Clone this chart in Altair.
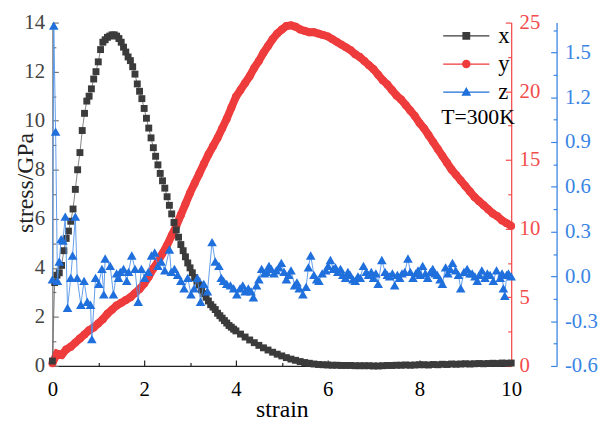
import altair as alt
import numpy as np
import pandas as pd

FONT = "Liberation Serif"

# ---------------- data ----------------
# series "x" (black squares, left axis, GPa)
black_strain = np.round(np.concatenate([np.arange(0, 4.001, 0.05), np.arange(4.1, 10.001, 0.1)]), 2)
black_stress = [
    0.2, 3.4, 3.7, 3.8, 4.1, 4.7, 5.2, 5.5, 5.9, 6.4,
    7.2, 8.0, 8.7, 9.6, 10.3, 10.8, 11.0, 11.3, 11.7, 12.0,
    12.4, 12.9, 13.2, 13.3, 13.4, 13.45, 13.5, 13.5, 13.45, 13.35,
    13.2, 13.0, 12.8, 12.6, 12.45, 12.2, 11.9, 11.5, 11.2, 10.9,
    10.5, 10.1, 9.7, 9.3, 8.9, 8.55, 8.2, 7.85, 7.55, 7.25,
    6.9, 6.55, 6.2, 5.85, 5.55, 5.25, 4.95, 4.7, 4.45, 4.2,
    4.0, 3.8, 3.6, 3.45, 3.3, 3.1, 2.95, 2.8, 2.65, 2.5,
    2.4, 2.3, 2.15, 2.05, 1.95, 1.85, 1.75, 1.65, 1.58, 1.5,
    1.43,
    1.3, 1.18, 1.06, 0.95, 0.84, 0.74, 0.65, 0.56, 0.48, 0.41,
    0.34, 0.28, 0.23, 0.18, 0.14, 0.11, 0.08, 0.06, 0.05, 0.04,
    0.03, 0.03, 0.02, 0.02, 0.02, 0.01, 0.01, 0.01, 0.01, 0.0,
    0.0, 0.01, 0.02, 0.02, 0.03, 0.03, 0.04, 0.03, 0.04, 0.05,
    0.05, 0.04, 0.06, 0.05, 0.07, 0.06, 0.08, 0.07, 0.08, 0.09,
    0.08, 0.09, 0.1, 0.09, 0.1, 0.11, 0.1, 0.12, 0.11, 0.12,
]

# series "y" (red circles, right red axis)
red_strain = np.round(np.arange(0, 10.001, 0.1), 1)
red_stress = [
    0.2, 0.9, 0.8, 1.2, 1.4, 1.7, 2.0, 2.3, 2.6, 2.8,
    3.1, 3.4, 3.8, 4.1, 4.4, 4.6, 4.8, 5.0, 5.3, 5.6,
    6.0, 6.5, 7.1, 7.6, 8.2, 8.8, 9.5, 10.2, 11.0, 11.8,
    12.6, 13.3, 14.0, 14.7, 15.4, 16.0, 16.6, 17.3, 18.0, 18.8,
    19.6, 20.1, 20.6, 21.1, 21.7, 22.2, 22.8, 23.3, 23.8, 24.2,
    24.5, 24.75, 24.8, 24.7, 24.5, 24.4, 24.3, 24.3, 24.2, 24.1,
    24.0, 23.8, 23.6, 23.4, 23.2, 23.0, 22.7, 22.5, 22.2, 21.9,
    21.6, 21.2, 20.8, 20.5, 20.1, 19.7, 19.4, 19.0, 18.6, 18.2,
    17.7, 17.3, 16.8, 16.3, 15.8, 15.3, 14.8, 14.3, 13.9, 13.5,
    13.1, 12.7, 12.3, 12.0, 11.7, 11.4, 11.1, 10.9, 10.6, 10.4,
    10.2,
]

# series "z" (blue triangles, far right blue axis)
blue_strain = [
    0.00, 0.03, 0.07, 0.11, 0.15, 0.19, 0.23, 0.28, 0.33, 0.40,
    0.44, 0.50, 0.54, 0.62, 0.69, 0.76, 0.83, 0.86, 0.94, 1.01,
    1.08, 1.12, 1.15, 1.26, 1.33, 1.40, 1.44, 1.48, 1.55, 1.62,
    1.66, 1.73, 1.80, 1.87, 1.94, 2.01, 2.09, 2.16, 2.23, 2.30,
    2.37, 2.45, 2.55, 2.59, 2.66, 2.73, 2.80, 2.87, 2.95, 3.02,
    3.09, 3.16, 3.23, 3.30, 3.38, 3.48, 3.55, 3.63, 3.68, 3.73,
    3.80, 3.88, 3.95, 4.02, 4.09, 4.15, 4.20, 4.27, 4.33, 4.38,
    4.45, 4.50, 4.56, 4.62, 4.67, 4.72, 4.77, 4.83, 4.88, 4.94,
    4.99, 5.05, 5.10, 5.15, 5.20, 5.28, 5.33, 5.38, 5.46, 5.53,
    5.58, 5.63, 5.70, 5.76, 5.81, 5.88, 5.96, 6.01, 6.06, 6.12,
    6.17, 6.22, 6.28, 6.33, 6.39, 6.44, 6.49, 6.55, 6.60, 6.66,
    6.71, 6.78, 6.84, 6.89, 6.95, 7.00, 7.05, 7.10, 7.18, 7.25,
    7.30, 7.35, 7.41, 7.46, 7.52, 7.57, 7.62, 7.68, 7.75, 7.80,
    7.86, 7.92, 7.97, 8.02, 8.07, 8.13, 8.18, 8.24, 8.29, 8.34,
    8.39, 8.45, 8.50, 8.57, 8.62, 8.67, 8.72, 8.79, 8.85, 8.90,
    8.97, 9.04, 9.10, 9.15, 9.21, 9.26, 9.31, 9.36, 9.43, 9.48,
    9.54, 9.61, 9.68, 9.76, 9.80, 9.83, 9.86, 9.90, 9.94, 10.0,
]
blue_stress = [
    -0.02, 1.68, 0.97, -0.03, 0.10, 0.25, 0.24, 0.40, -0.21, -0.01,
    0.14, 0.40, -0.01, -0.19, -0.03, -0.17, -0.19, -0.42, -0.01, -0.05,
    0.05, -0.12, 0.12, 0.07, -0.12, 0.02, -0.01, 0.03, 0.05, -0.03,
    0.03, 0.14, 0.05, -0.17, 0.05, -0.01, 0.03, 0.14, 0.16, 0.07,
    0.10, 0.04, 0.18, 0.03, 0.05, 0.01, -0.03, -0.08, -0.01, -0.12,
    -0.08, -0.01, -0.17, -0.05, -0.10, 0.23, 0.10, 0.07, -0.01, -0.03,
    -0.05, -0.06, -0.08, -0.12, -0.08, -0.06, -0.10, -0.08, -0.10, -0.14,
    -0.06, -0.02, 0.05, 0.02, 0.03, 0.07, 0.05, 0.02, 0.04, 0.06,
    0.09, 0.03, -0.02, 0.01, 0.04, -0.06, -0.04, -0.08, -0.12, -0.07,
    0.06, 0.14, 0.01, -0.02, -0.03, 0.02, 0.04, 0.07, 0.11, 0.05,
    0.06, 0.03, 0.05, 0.01, -0.01, 0.03, 0.01, -0.02, -0.03, 0.00,
    -0.01, 0.07, 0.03, 0.01, 0.03, -0.01, 0.02, -0.05, 0.11, 0.03,
    0.01, 0.00, 0.02, -0.06, 0.01, -0.01, 0.02, 0.03, 0.12, 0.03,
    -0.01, 0.02, 0.04, 0.01, 0.07, 0.02, -0.01, 0.03, 0.05, 0.02,
    0.01, -0.02, -0.05, 0.06, 0.02, 0.05, 0.09, 0.04, 0.01, -0.08,
    0.03, 0.05, 0.02, 0.02, 0.00, -0.03, 0.01, 0.04, -0.01, 0.02,
    0.01, -0.03, 0.04, -0.01, 0.02, -0.08, -0.13, 0.01, 0.02, 0.00,
]

series_names = ["x", "y", "z"]
legend_title = "T=300K"
x_title = "strain"
y_title = "stress/GPa"

x_ticks = [0, 2, 4, 6, 8, 10]
x_minor = [1, 3, 5, 7, 9]
left_ticks = [0, 2, 4, 6, 8, 10, 12, 14]
left_minor = [1, 3, 5, 7, 9, 11, 13]
red_ticks = [0, 5, 10, 15, 20, 25]
red_minor = [2.5, 7.5, 12.5, 17.5, 22.5]
blue_ticks = [-0.6, -0.3, 0.0, 0.3, 0.6, 0.9, 1.2, 1.5]
blue_minor = [-0.45, -0.15, 0.15, 0.45, 0.75, 1.05, 1.35, 1.65]

# ---------------- styling ----------------
BLACK = "#3b3b3b"
RED = "#ee3b3b"
BLUE = "#1f6fdc"
RED_AX = "#f24c4c"
BLUE_AX = "#3a84e4"
series_colors = [BLACK, RED, BLUE]

# legend symbols: a short line with the marker in the middle (filled paths)
LINE = "M-2.6,-0.07H2.6V0.07H-2.6Z"
legend_paths = [
    LINE + "M-0.44,-0.44H0.44V0.44H-0.44Z",
    LINE + "M-0.48,0A0.48,0.48,0,1,1,0.48,0A0.48,0.48,0,1,1,-0.48,0Z",
    LINE + "M0,-0.58L0.55,0.4L-0.55,0.4Z",
]

df_x = pd.DataFrame({"strain": black_strain, "v": black_stress})
df_y = pd.DataFrame({"strain": red_strain, "v": red_stress})
df_z = pd.DataFrame({"strain": blue_strain, "v": blue_stress})
df_empty = pd.DataFrame({"series": series_names, "v": [0.0, 0.0, 0.0]})

xs = alt.Scale(domain=[0, 10], nice=False, zero=False)
ys_left = alt.Scale(domain=[0, 14], nice=False, zero=False)
ys_red = alt.Scale(domain=[0, 25], nice=False, zero=False)
ys_blue = alt.Scale(domain=[-0.6, 1.7], nice=False, zero=False)

IN6 = {"expr": "-6"}
IN3 = {"expr": "-3.5"}

common = dict(grid=False, labelFont=FONT, titleFont=FONT, labelFontSize=21,
              titleFontSize=24, titleFontWeight="normal", tickWidth=1.2,
              domainWidth=1.3, labelFlush=False, labelOverlap=False)

ax_x = alt.Axis(values=x_ticks, title=x_title, orient="bottom", tickSize=IN6,
                labelPadding=36, labelBaseline="alphabetic", labelColor="black",
                domainColor="#222222", tickColor="#222222", titleColor="black",
                titleBaseline="alphabetic", titleY=51, format="d", **common)
ax_left = alt.Axis(values=left_ticks, title=y_title, orient="left", tickSize=IN6,
                   labelPadding=14, labelColor="#444444", domainColor="#777777",
                   tickColor="#777777", titleColor="#222222", titleAngle=-90,
                   titleX=-20, titleY=162, titleBaseline="alphabetic",
                   format="d", **common)
ax_red = alt.Axis(values=red_ticks, title=None, orient="right", tickSize=IN6,
                  labelPadding=14, labelColor=RED_AX, domainColor=RED_AX,
                  tickColor=RED_AX, format="d", **common)
ax_blue = alt.Axis(values=blue_ticks, title=None, orient="right", offset=46,
                   tickSize=IN6, labelPadding=14, labelColor=BLUE_AX,
                   domainColor=BLUE_AX, tickColor=BLUE_AX,
                   labelExpr="replace(format(datum.value, '.1f'), '\u2212', '-')",
                   **common)

minor = dict(grid=False, labels=False, domain=False, title=None, tickWidth=1.2)
ax_x_minor = alt.Axis(values=x_minor, orient="bottom", tickSize=IN3, tickColor="#222222", **minor)
ax_left_minor = alt.Axis(values=left_minor, orient="left", tickSize=IN3, tickColor="#777777", **minor)
ax_red_minor = alt.Axis(values=red_minor, orient="right", tickSize=IN3, tickColor=RED_AX, **minor)
ax_blue_minor = alt.Axis(values=blue_minor, orient="right", offset=46, tickSize=IN3, tickColor=BLUE_AX, **minor)

# ---------------- series layers ----------------
bx = alt.X("strain:Q", scale=xs, axis=ax_x)
by = alt.Y("v:Q", scale=ys_left, axis=ax_left)
black = alt.layer(
    alt.Chart(df_x).mark_line(color="#666666", strokeWidth=0.8).encode(x=bx, y=by),
    alt.Chart(df_x).mark_point(shape="square", filled=True, size=49, opacity=1,
                               color=BLACK).encode(x=bx, y=by),
)

rx = alt.X("strain:Q", scale=xs, axis=None)
ry = alt.Y("v:Q", scale=ys_red, axis=ax_red)
red = alt.layer(
    alt.Chart(df_y).mark_line(color=RED, strokeWidth=8).encode(x=rx, y=ry),
    alt.Chart(df_y).mark_circle(size=64, opacity=1, color=RED).encode(x=rx, y=ry),
)

zx = alt.X("strain:Q", scale=xs, axis=None)
zy = alt.Y("v:Q", scale=ys_blue, axis=ax_blue)
blue = alt.layer(
    alt.Chart(df_z).mark_line(color="#4f93ea", strokeWidth=0.9).encode(x=zx, y=zy),
    alt.Chart(df_z).mark_point(shape="triangle-up", filled=True, size=95, opacity=1,
                               color=BLUE).encode(x=zx, y=zy),
)

leg = alt.Legend(orient="none", legendX=394, legendY=2, title=legend_title,
                 titleOrient="bottom", titleAnchor="start", titleAlign="left",
                 titleFont=FONT, titleFontSize=22, titleFontWeight="normal",
                 titleColor="black", titlePadding=3, labelFont=FONT,
                 labelFontSize=23, labelColor="black", labelOffset=21,
                 symbolOffset=14, symbolSize=324, symbolStrokeWidth=0,
                 symbolOpacity=1, rowPadding=4.5, padding=0)

# legend + minor ticks (no marks drawn: data filtered out)
legend_layer = alt.Chart(df_empty).transform_filter("false").mark_point(
    filled=True, opacity=1).encode(
    x=alt.X("v:Q", scale=xs, axis=ax_x_minor),
    y=alt.Y("v:Q", scale=ys_left, axis=ax_left_minor),
    color=alt.Color("series:N", scale=alt.Scale(domain=series_names, range=series_colors), legend=leg),
    shape=alt.Shape("series:N", scale=alt.Scale(domain=series_names, range=legend_paths), legend=leg),
)
red_minor_layer = alt.Chart(df_empty).transform_filter("false").mark_point().encode(
    x=alt.X("v:Q", scale=xs, axis=None),
    y=alt.Y("v:Q", scale=ys_red, axis=ax_red_minor),
)
blue_minor_layer = alt.Chart(df_empty).transform_filter("false").mark_point().encode(
    x=alt.X("v:Q", scale=xs, axis=None),
    y=alt.Y("v:Q", scale=ys_blue, axis=ax_blue_minor),
)

chart = alt.layer(
    red, black, blue, legend_layer, red_minor_layer, blue_minor_layer
).resolve_scale(
    x="independent", y="independent"
).properties(
    width=465, height=348,
    padding={"left": 45, "top": 12, "right": 90, "bottom": 55},
    autosize=alt.AutoSizeParams(type="none"),
    background="white",
).configure_view(stroke=None)

chart.save("out.html", embed_options={"renderer": "svg", "actions": False})
